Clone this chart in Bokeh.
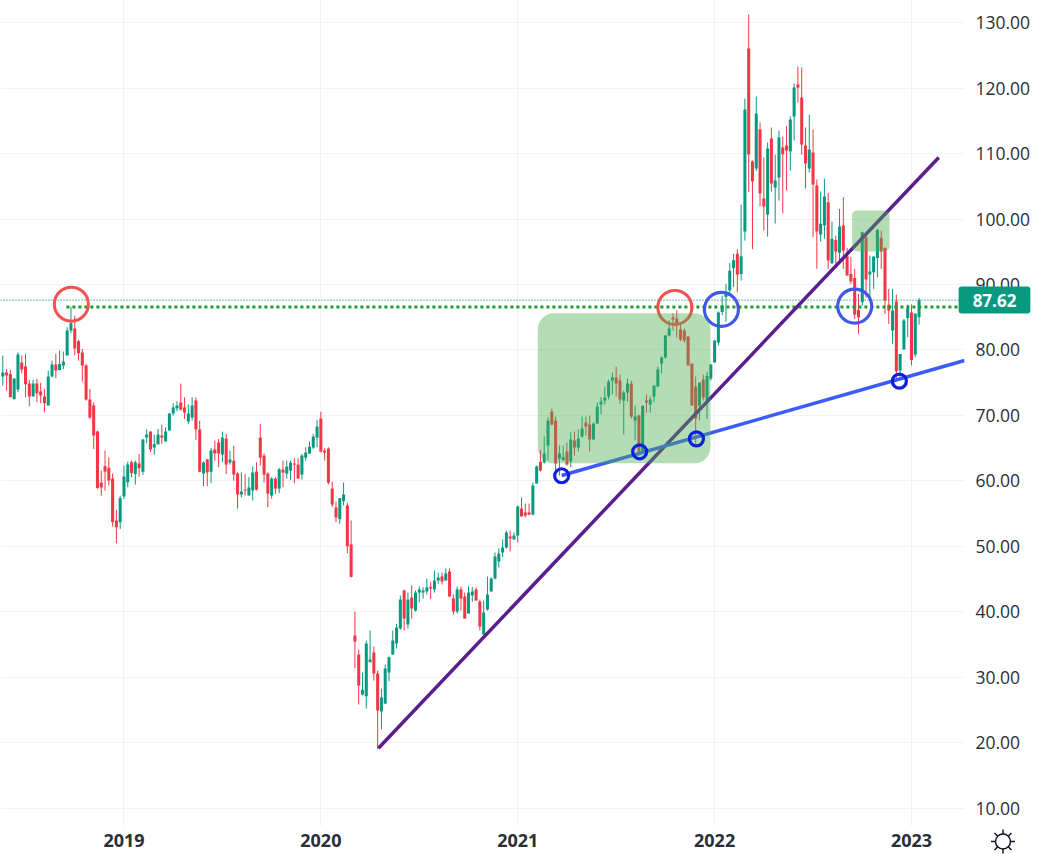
from bokeh.plotting import figure
from bokeh.layouts import row
from bokeh.models import ColumnDataSource, FixedTicker, Label, BoxAnnotation, NumeralTickFormatter
from bokeh.embed import file_html
from bokeh.resources import INLINE

# Weekly candles: direction, body top, body bottom, high, low
direction = ("GRRGGRRRGR" "RRGGRGGGGR" "RRRRRRRRRR" "RGGGRGRGGR" "GGRGGGGRRG"
             "GRRGRGRRGR" "GRRGRGGRRR" "RGRGRGGRRG" "GGGGRRRRRG" "GRRRRGGGRR"
             "GGGGGGRGRG" "GGGRGGRGRR" "GRRGGRRGGG" "GGGGRGGRRR" "GGRGGRRGGR"
             "GRGGRRGGGG" "GGRRGGRGRG" "RGGGGGGRRR" "RRRRGRGGGG" "GGGGRGGRRG"
             "RRGRGGRRGG" "RRRGRRGGRG" "RGRRRRRGRG" "GGRRRGRGGG" "RGG")

body_top = [
76.55,76.55,76.35,75.64,79.3,78.08,77.47,74.87,74.87,74.87,
73.65,72.89,75.94,77.77,77.77,77.88,78.23,82.97,84.08,83.27,
81.34,79.61,77.62,72.43,71.51,67.54,59.75,62.3,62.04,60.37,
53.95,57.41,60.67,62.5,62.86,62.86,62.66,66.32,67.08,67.54,
65.66,67.08,66.93,67.54,70.29,71.21,71.51,71.97,71.21,70.29,
71.51,72.28,67.85,62.81,63.27,64.64,64.79,65.86,66.63,66.47,
63.27,63.11,61.13,58.38,58.69,58.99,61.28,61.43,66.63,63.88,
61.13,60.37,60.37,61.79,61.74,62.2,62.81,62.66,62.5,63.88,
64.34,65.25,66.78,68.31,69.53,64.64,64.95,58.84,55.95,57.38,
57.94,56.26,50.3,36.41,33.5,28.11,35.19,32.74,33.81,30.6,
26.94,31.37,33.1,35.64,37.63,41.9,43.28,41.9,42.21,42.97,
43.43,43.28,43.74,43.79,44.81,45.26,45.42,45.88,46.18,42.06,
43.43,43.43,42.36,42.97,43.13,43.43,41.6,39.92,42.67,45.11,
48.47,48.93,49.84,52.14,51.52,51.68,56.11,55.8,55.19,55.19,
59.31,62.21,62.92,64.19,69.23,70.6,69.23,64.19,63.63,64.49,
66.33,66.17,66.48,68.01,68.92,68.62,68.77,71.37,72.13,72.74,
75.18,75.8,75.8,75.34,73.5,74.88,74.88,69.84,70.0,71.47,
72.28,72.44,74.57,77.02,78.85,82.21,83.28,84.96,84.8,83.12,
82.97,82.06,77.93,74.42,75.03,75.49,76.05,77.78,81.45,85.72,
86.8,88.7,92.1,93.7,94.7,94.3,116.7,126.03,108.78,116.1,
113.66,103.13,110.76,112.29,105.87,112.44,110.91,111.22,115.19,120.07,
120.53,118.55,111.22,110.61,110.15,105.11,99.26,103.43,102.56,96.97,
96.81,98.85,99.0,94.27,91.62,91.01,86.12,97.98,97.22,91.98,
94.27,98.34,97.12,95.59,86.89,86.02,87.4,79.4,84.5,86.43,
85.72,85.57,87.62]

body_bottom = [
75.95,76.09,72.79,72.48,73.96,77.01,74.77,72.89,72.89,73.4,
73.04,71.87,71.51,75.94,76.86,76.96,77.62,79.15,82.97,80.22,
79.5,77.62,72.43,69.68,66.93,58.94,58.99,61.43,60.06,53.7,
52.93,53.7,57.62,59.81,61.23,61.08,61.94,61.43,66.63,64.79,
65.1,65.61,66.63,66.02,67.7,70.29,71.05,70.9,70.44,69.07,
69.68,67.85,61.43,61.13,61.33,61.43,64.18,64.18,64.03,62.5,
62.81,60.98,57.92,57.92,58.53,57.77,58.53,58.69,63.57,60.98,
58.07,57.77,58.84,58.84,61.28,61.13,61.59,62.5,60.37,60.98,
63.57,64.18,65.1,66.63,64.49,64.34,59.75,56.4,54.43,54.17,
56.92,50.05,45.37,35.49,28.77,27.4,27.14,32.34,30.6,24.96,
24.8,26.02,30.76,33.5,35.19,37.48,39.0,38.09,40.53,40.22,
42.97,42.97,43.13,43.58,43.43,44.81,44.65,44.81,42.36,40.07,
40.07,42.06,39.0,39.77,42.52,41.75,37.78,36.56,40.38,43.13,
45.11,47.71,49.08,49.84,51.22,51.07,51.68,54.58,54.73,54.88,
54.88,59.62,61.6,62.82,65.41,68.62,62.66,63.43,63.22,62.51,
62.97,65.11,65.11,66.79,68.31,66.33,66.33,68.77,71.67,72.28,
72.89,75.34,74.88,72.44,72.28,73.5,69.84,69.23,64.5,64.14,
71.98,71.67,72.89,74.42,77.93,78.85,82.21,84.65,83.89,81.6,
81.45,77.63,71.52,69.53,71.52,72.74,72.28,75.64,78.09,81.14,
85.8,88.1,89.1,92.5,91.5,91.6,98.1,109.84,105.72,107.71,
103.89,101.9,100.68,105.42,104.8,106.33,109.9,110.45,110.3,115.65,
120.07,111.37,108.47,107.71,105.26,98.09,97.63,99.0,93.66,93.25,
95.03,94.83,95.18,91.37,90.45,85.41,85.0,87.29,90.76,91.52,
91.88,94.06,95.03,87.55,86.02,82.97,76.76,76.86,80.07,84.9,
78.49,79.3,85.0]

high = [
79.15,77.11,76.96,75.64,79.61,79.15,79.4,75.43,75.43,75.58,
75.02,74.06,76.86,78.38,79.4,79.91,79.76,83.47,86.63,85.26,
81.54,80.17,77.88,74.06,72.02,67.7,61.59,64.64,63.62,61.18,
55.58,57.77,62.35,62.96,63.11,63.11,64.13,66.42,67.85,67.54,
67.08,67.95,68.56,68.2,70.39,71.87,72.17,74.87,72.79,71.67,
72.79,72.79,69.22,63.01,63.37,65.05,66.17,66.42,67.54,67.19,
64.64,65.4,61.33,61.33,61.08,60.57,62.2,62.86,68.71,64.23,
61.33,60.57,60.57,62.0,63.11,63.11,63.11,63.47,63.47,64.13,
65.15,66.02,67.19,69.32,70.6,65.0,65.15,59.9,56.87,57.38,
59.77,56.67,53.97,40.07,34.27,30.76,35.64,37.17,34.73,31.06,
28.31,31.98,33.2,37.17,38.19,42.52,43.43,42.97,44.04,43.28,
43.89,43.79,45.11,44.6,46.33,46.03,46.03,46.64,46.64,42.67,
43.89,43.89,42.97,43.89,43.79,43.79,41.9,41.75,45.42,45.26,
49.08,49.69,51.07,52.44,52.44,52.14,56.26,57.48,56.56,56.56,
59.77,62.37,64.75,66.79,69.74,71.06,69.84,65.41,65.41,65.87,
67.45,67.55,67.85,69.84,69.84,70.0,68.92,71.98,72.79,74.42,
75.49,76.56,77.47,76.25,73.81,75.64,75.34,71.52,70.15,71.57,
73.2,72.9,74.57,77.47,79.0,82.31,84.5,85.57,86.03,84.0,
83.28,82.06,77.93,75.95,75.03,76.25,76.66,77.88,81.45,85.9,
88.3,90.1,93.3,94.7,95.4,102.2,118.4,131.2,108.93,118.7,
114.73,109.39,111.68,113.97,109.84,113.51,112.59,114.22,115.65,120.69,
123.28,123.13,113.97,115.95,113.66,106.03,104.2,106.18,104.0,99.6,
97.47,101.55,103.33,95.6,94.17,92.38,88.57,98.08,97.32,94.42,
94.27,98.49,98.24,95.69,89.33,89.33,88.47,79.4,84.75,86.94,
86.94,85.57,87.96]

low = [
74.57,73.8,72.79,72.48,73.55,76.45,72.79,71.41,72.89,72.02,
71.87,70.49,71.51,75.84,75.69,76.86,77.11,79.15,82.56,79.2,
78.38,75.18,72.28,69.43,64.9,58.79,57.77,58.53,59.3,53.04,
50.49,52.68,57.26,59.04,60.57,59.45,60.67,60.93,65.76,64.39,
64.03,65.56,65.66,66.02,67.7,69.99,70.65,70.75,69.48,68.71,
69.22,66.27,61.33,59.2,59.2,59.65,63.11,62.1,62.86,61.08,
62.5,60.06,55.78,57.51,57.77,57.77,57.01,58.53,62.35,59.75,
55.99,57.31,58.02,58.13,59.04,60.37,60.16,59.65,60.37,60.21,
63.11,64.18,64.9,65.15,64.34,63.11,59.45,56.0,53.71,53.46,
56.26,48.98,45.26,31.42,25.87,27.25,25.26,32.34,29.54,19.1,
22.1,25.97,29.43,33.5,34.42,37.32,37.17,37.48,39.0,40.07,
41.45,42.06,42.67,41.96,42.97,44.3,44.2,44.81,42.36,39.61,
39.77,40.22,39.0,39.77,41.55,41.75,37.17,36.56,40.22,43.13,
44.96,46.79,48.37,49.69,49.23,51.07,50.61,54.58,54.43,54.73,
54.73,59.62,61.44,62.66,63.12,68.47,61.59,60.83,63.02,62.36,
62.1,63.88,64.5,66.58,66.94,64.5,66.33,68.72,70.15,71.67,
72.44,73.2,72.89,71.77,67.09,72.13,69.53,66.17,63.88,64.14,
70.45,70.45,72.03,74.32,76.41,78.7,82.06,82.97,81.9,81.34,
81.14,77.63,71.52,65.67,69.23,72.28,69.48,75.34,78.09,80.7,
85.3,84.3,88.7,89.6,88.8,90.6,96.7,104.09,95.39,107.3,
101.9,98.24,97.32,104.19,99.31,102.82,100.83,104.35,107.4,111.98,
117.78,109.84,104.65,107.1,97.22,92.4,96.56,97.0,92.38,93.15,
93.25,93.4,92.38,91.37,90.1,84.75,82.46,86.79,88.0,88.06,
89.33,91.11,92.38,85.51,83.99,80.93,75.59,75.84,80.07,81.95,
77.62,78.9,83.88]

last_price = 87.62
resistance_level = 86.55
year_labels = {32: "2019", 84: "2020", 136: "2021", 188: "2022", 240: "2023"}
price_ticks = [10, 20, 30, 40, 50, 60, 70, 80, 90, 100, 110, 120, 130]

# Drawings placed on the chart, in (bar index, price)
purple_x, purple_y = [99.2, 247.2], [19.2, 109.4]
support_x, support_y = [147.6, 254.0], [60.84, 78.4]
level_x = [16.8, 254.0]
red_rings_x, red_rings_y = [18.1, 177.5], [87.0, 86.5]
blue_rings_x, blue_rings_y = [189.8, 225.0], [86.2, 86.7]
touch_x, touch_y = [147.6, 168.2, 183.2, 236.8], [60.8, 64.46, 66.44, 75.24]
zones = [(141.3, 186.9, 85.6, 62.7, 16), (224.3, 234.2, 101.3, 95.04, 5)]

UP, DOWN = "#089981", "#F23645"
idx = list(range(len(body_top)))
colors = [UP if d == "G" else DOWN for d in direction]
src = ColumnDataSource(dict(x=idx, top=body_top, bottom=body_bottom, high=high, low=low, color=colors))

p = figure(width=1044, height=854, output_backend="svg", toolbar_location=None,
           x_range=(-0.61, 254.0), y_range=(7.25, 133.36), y_axis_location="right",
           frame_width=964, frame_height=826, min_border=0, min_border_left=0,
           min_border_top=0, min_border_right=80, min_border_bottom=28,
           outline_line_color=None, frame_align=False)
p.background_fill_color = "white"

p.xaxis.ticker = FixedTicker(ticks=list(year_labels))
p.xaxis.major_label_overrides = year_labels
p.xaxis.major_label_text_font = "Open Sans"
p.xaxis.major_label_text_font_size = "18px"
p.xaxis.major_label_text_font_style = "bold"
p.xaxis.major_label_text_color = "#2a2e39"
p.xaxis.major_label_standoff = 1
p.yaxis.ticker = FixedTicker(ticks=price_ticks)
p.yaxis.formatter = NumeralTickFormatter(format="0.00")
p.yaxis.major_label_text_font = "Open Sans"
p.yaxis.major_label_text_font_size = "17.5px"
p.yaxis.major_label_text_color = "#2a2e39"
p.yaxis.major_label_standoff = 5
for ax in (p.xaxis, p.yaxis):
    ax.axis_line_color = None
    ax.major_tick_line_color = None
    ax.minor_tick_line_color = None
p.xgrid.ticker = FixedTicker(ticks=list(year_labels))
p.ygrid.ticker = FixedTicker(ticks=price_ticks)
p.xgrid.grid_line_color = "#f0f3fa"
p.ygrid.grid_line_color = "#f0f3fa"

p.segment("x", "high", "x", "low", color="color", line_width=1, source=src)
p.vbar("x", width=0.8, top="top", bottom="bottom", fill_color="color", line_color=None, source=src)

p.line([-0.61, 254.0], [last_price, last_price], line_color=UP, line_width=1.2, line_dash="1 2")
p.line(level_x, [resistance_level, resistance_level], line_color="#1a9e2a", line_width=3, line_dash="3 3")
p.line(purple_x, purple_y, line_color="#5b1e8e", line_width=3.5)
p.line(support_x, support_y, line_color="#3d5afe", line_width=3.5)
p.scatter(red_rings_x, red_rings_y, marker="circle", size=34, fill_color=None, line_color="#f0524f", line_width=3)
p.scatter(blue_rings_x, blue_rings_y, marker="circle", size=34, fill_color=None, line_color="#4058e8", line_width=3.2)

for left, right, top, bottom, radius in zones:
    p.add_layout(BoxAnnotation(left=left, right=right, top=top, bottom=bottom, fill_color="#4caf50",
                               fill_alpha=0.42, line_color=None, border_radius=radius))

p.scatter(touch_x, touch_y, marker="circle", size=14, fill_color=None, line_color="#0a1fe0", line_width=3.2, level="overlay")

# Transparent layer over the price scale: x is in page pixels, y shares the price scale
overlay = figure(width=100, height=854, output_backend="svg", toolbar_location=None,
                 x_range=(944, 1044), y_range=(2.98, 133.36), x_axis_type=None, y_axis_type=None,
                 min_border=0, outline_line_color=None, background_fill_alpha=0, border_fill_alpha=0,
                 margin=(0, 0, 0, -100), frame_align=False)
overlay.xgrid.visible = False
overlay.ygrid.visible = False
overlay.add_layout(Label(x=994, y=last_price, text=f"{last_price:.2f}", text_align="center",
                         text_baseline="middle", text_color="white", text_font="Open Sans", text_font_style="bold",
                         text_font_size="17px", background_fill_color=UP, padding=(14, 7), border_radius=3))
# Settings icon at the corner of the scales
overlay.scatter([1002.5], [4.96], marker="asterisk", size=24, line_color="#131722", line_width=1.5)
overlay.scatter([1002.5], [4.96], marker="circle", size=15, fill_color="white", line_color="#131722", line_width=1.5)

open("out.html", "w").write(file_html(row(p, overlay), INLINE))
